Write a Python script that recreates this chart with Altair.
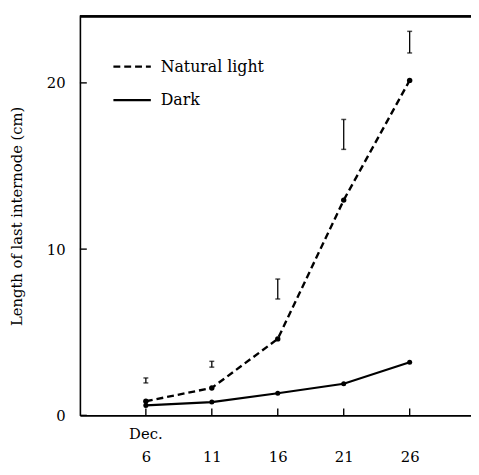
import altair as alt
import pandas as pd

days = [6, 11, 16, 21, 26]
natural = [0.85, 1.65, 4.6, 12.95, 20.15]
dark = [0.6, 0.8, 1.33, 1.9, 3.2]
err_low = [1.95, 2.9, 7.0, 16.0, 21.8]
err_high = [2.25, 3.25, 8.2, 17.8, 23.1]
y_ticks = [0, 10, 20]

W, H = 397, 405
FONT = "DejaVu Serif"

nat_df = pd.DataFrame({"day": days, "len": natural})
dark_df = pd.DataFrame({"day": days, "len": dark})
err_df = pd.DataFrame({"day": days, "lo": err_low, "hi": err_high})
xt_df = pd.DataFrame({"day": days})
yt_df = pd.DataFrame({"v": y_ticks})

xs = alt.Scale(domain=[1, 30.65], nice=False, zero=False)
ys = alt.Scale(domain=[0, 24], nice=False, zero=False)

x_axis = alt.Axis(values=days, ticks=False, labelPadding=35, domain=True,
                  domainColor="black", domainWidth=1.6, grid=False,
                  labelFont=FONT, labelFontSize=15, labelColor="black", title=None)
y_axis = alt.Axis(values=y_ticks, ticks=False, labelPadding=15, domain=True,
                  domainColor="black", domainWidth=1.6, grid=False,
                  labelFont=FONT, labelFontSize=15, labelColor="black",
                  title="Length of last internode (cm)", titleFont=FONT,
                  titleFontSize=15, titleFontWeight="normal", titleColor="black",
                  titlePadding=22)

nat_line = alt.Chart(nat_df).mark_line(color="black", strokeWidth=2.4, strokeDash=[7, 4]).encode(
    x=alt.X("day:Q", scale=xs, axis=x_axis),
    y=alt.Y("len:Q", scale=ys, axis=y_axis),
)
nat_pts = alt.Chart(nat_df).mark_circle(color="black", size=30, opacity=1).encode(
    x=alt.X("day:Q", scale=xs), y=alt.Y("len:Q", scale=ys))
dark_line = alt.Chart(dark_df).mark_line(color="black", strokeWidth=2.2).encode(
    x=alt.X("day:Q", scale=xs), y=alt.Y("len:Q", scale=ys))
dark_pts = alt.Chart(dark_df).mark_circle(color="black", size=26, opacity=1).encode(
    x=alt.X("day:Q", scale=xs), y=alt.Y("len:Q", scale=ys))

err_rule = alt.Chart(err_df).mark_rule(color="black", strokeWidth=1.3).encode(
    x=alt.X("day:Q", scale=xs), y=alt.Y("lo:Q", scale=ys), y2="hi:Q")
err_lo = alt.Chart(err_df).mark_tick(color="black", orient="horizontal", size=5, thickness=1.5).encode(
    x=alt.X("day:Q", scale=xs), y=alt.Y("lo:Q", scale=ys))
err_hi = alt.Chart(err_df).mark_tick(color="black", orient="horizontal", size=5, thickness=1.5).encode(
    x=alt.X("day:Q", scale=xs), y=alt.Y("hi:Q", scale=ys))

xticks = alt.Chart(xt_df).mark_rule(color="black", strokeWidth=1.4).encode(
    x=alt.X("day:Q", scale=xs), y=alt.value(H), y2=alt.value(H - 7))
yticks = alt.Chart(yt_df).mark_rule(color="black", strokeWidth=1.4).encode(
    y=alt.Y("v:Q", scale=ys), x=alt.value(0), x2=alt.value(7))
top_line = alt.Chart(xt_df).mark_rule(color="black", strokeWidth=1.6).encode(
    x=alt.value(0), x2=alt.value(W), y=alt.value(0))

dec_label = alt.Chart(pd.DataFrame({"t": ["Dec."]})).mark_text(
    font=FONT, fontSize=15, color="black", baseline="middle", align="center").encode(
    x=alt.datum(6, scale=xs), y=alt.value(H + 19), text="t:N")

leg_nat = alt.Chart(pd.DataFrame({"k": [1]})).mark_rule(
    color="black", strokeWidth=2.4, strokeDash=[7, 4]).encode(
    x=alt.value(34), x2=alt.value(72), y=alt.value(51))
leg_dark = alt.Chart(pd.DataFrame({"k": [1]})).mark_rule(
    color="black", strokeWidth=2.4).encode(
    x=alt.value(34), x2=alt.value(72), y=alt.value(85))
leg_txt1 = alt.Chart(pd.DataFrame({"t": ["Natural light"]})).mark_text(
    font=FONT, fontSize=16, color="black", align="left", baseline="middle").encode(
    x=alt.value(82), y=alt.value(51), text="t:N")
leg_txt2 = alt.Chart(pd.DataFrame({"t": ["Dark"]})).mark_text(
    font=FONT, fontSize=16, color="black", align="left", baseline="middle").encode(
    x=alt.value(82), y=alt.value(85), text="t:N")

chart = alt.layer(
    nat_line, dark_line, nat_pts, dark_pts, err_rule, err_lo, err_hi,
    xticks, yticks, top_line, dec_label, leg_nat, leg_dark, leg_txt1, leg_txt2,
).properties(
    width=W, height=H,
    autosize=alt.AutoSizeParams(type="none"),
    padding={"left": 73, "top": 5, "right": 0, "bottom": 55},
).configure_view(stroke=None).configure(background="white")

chart.save("out.html", embed_options={"renderer": "svg", "actions": False})
